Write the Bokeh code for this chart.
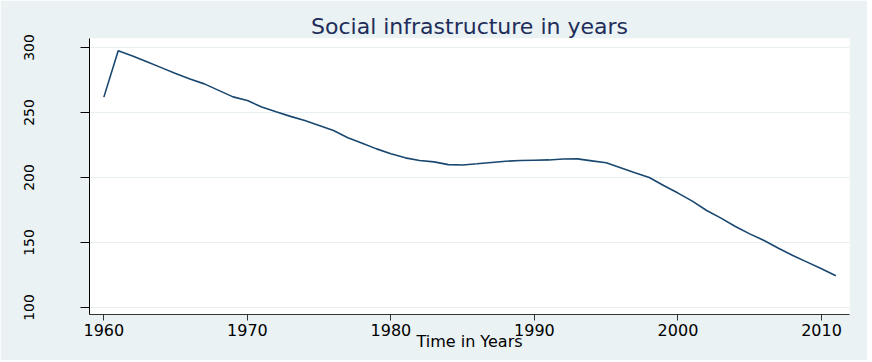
from bokeh.plotting import figure
from bokeh.models import Range1d, FixedTicker
from bokeh.embed import file_html
from bokeh.resources import INLINE

years = list(range(1960, 2012))
social_infra = [
    261.8, 297.4, 293.5, 289.0, 284.5, 280.0, 275.8, 272.0, 267.0, 262.0,
    259.2, 254.2, 250.5, 247.0, 243.8, 240.0, 236.2, 230.6, 226.4, 222.0,
    218.2, 215.1, 213.0, 212.0, 209.9, 209.6, 210.5, 211.5, 212.5, 213.0,
    213.3, 213.5, 214.2, 214.3, 212.8, 211.3, 207.5, 203.7, 200.0, 193.8,
    188.0, 181.8, 174.6, 168.7, 162.3, 156.6, 151.5, 145.6, 140.0, 134.9,
    129.8, 124.4,
]
x_ticks = [1960, 1970, 1980, 1990, 2000, 2010]
y_ticks = [100, 150, 200, 250, 300]

title_text = "Social infrastructure in years"
x_label = "Time in Years"

BG = "#EAF2F3"
NAVY = "#1A476F"

p = figure(
    width=867, height=360,
    output_backend="svg", toolbar_location=None,
    x_range=Range1d(1959.0, 2011.95), y_range=Range1d(94.6, 306.9),
    min_border_left=89, min_border_right=18, min_border_top=38, min_border_bottom=46,
)
p.border_fill_color = BG
p.background_fill_color = "white"
p.outline_line_color = None

p.title.text = title_text
p.title.align = "center"
p.title.text_font = "DejaVu Sans"
p.title.text_font_size = "22px"
p.title.text_font_style = "normal"
p.title.text_color = "#1E2D5A"
p.title.standoff = 0

p.line(years, social_infra, line_color=NAVY, line_width=1.6)

# x axis
xa = p.xaxis[0]
xa.ticker = FixedTicker(ticks=x_ticks)
xa.minor_tick_line_color = None
xa.major_tick_out = 6
xa.major_tick_in = 0
xa.major_label_standoff = 3
xa.major_label_text_font = "DejaVu Sans"
xa.major_label_text_font_size = "16px"
xa.major_label_text_color = "black"
xa.axis_line_color = "#333333"
xa.major_tick_line_color = "#333333"
xa.axis_label = x_label
xa.axis_label_text_font = "DejaVu Sans"
xa.axis_label_text_font_size = "16px"
xa.axis_label_text_font_style = "normal"
xa.axis_label_text_color = "black"
xa.axis_label_standoff = -7

# y axis
ya = p.yaxis[0]
ya.ticker = FixedTicker(ticks=y_ticks)
ya.minor_tick_line_color = None
ya.major_tick_out = 9
ya.major_tick_in = 0
ya.major_label_orientation = "vertical"
ya.major_label_standoff = 46
ya.major_label_text_font = "DejaVu Sans"
ya.major_label_text_font_size = "14px"
ya.major_label_text_color = "black"
ya.axis_line_color = "black"
ya.major_tick_line_color = "black"

p.xgrid.grid_line_color = None
p.ygrid.grid_line_color = "#E6EEF1"
p.ygrid.grid_line_width = 1.2

open("out.html", "w").write(file_html(p, INLINE))
